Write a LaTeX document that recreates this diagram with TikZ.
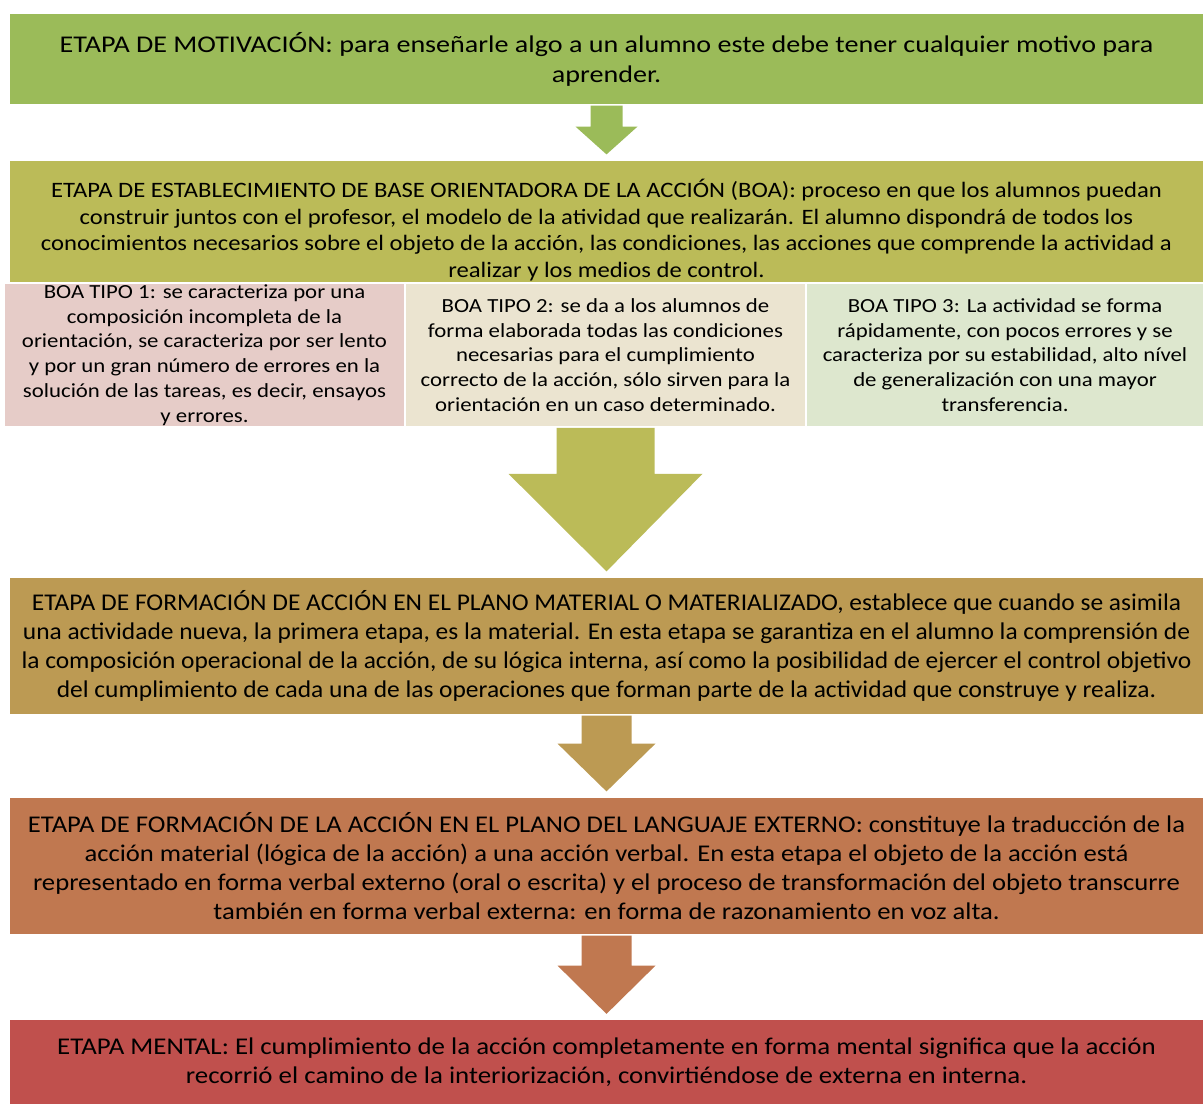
\documentclass[tikz,border=0pt]{standalone}
\usepackage{fontspec}
\setmainfont{Carlito}
\usetikzlibrary{calc}

\definecolor{motivgreen}{HTML}{9BBB59}
\definecolor{boaolive}{HTML}{BBBB58}
\definecolor{boapink}{HTML}{E6CCC8}
\definecolor{boabeige}{HTML}{EBE4D0}
\definecolor{boagreen}{HTML}{DDE7CE}
\definecolor{materialtan}{HTML}{BC9A53}
\definecolor{verbalbrown}{HTML}{C07850}
\definecolor{mentalred}{HTML}{C0504D}

% fat arrow: from, to, shaft half width, head half width, shaft length, colour
\newcommand{\stagearrow}[6]{%
  \fill[#6] ($(#1.south)+(-#3,0)$) -- ($(#1.south)+(#3,0)$) -- ($(#1.south)+(#3,#5)$)
    -- ($(#1.south)+(#4,#5)$) -- ($(#2.north)+(0,-5)$) -- ($(#1.south)+(-#4,#5)$)
    -- ($(#1.south)+(-#3,#5)$) -- cycle;}
% font size, baseline skip, horizontal stretch
\newcommand{\stagefont}[3]{\fontsize{#1}{#2}\selectfont\addfontfeatures{FakeStretch=#3}}

\begin{document}
\begin{tikzpicture}[x = 0.5pt, y = -0.5pt,
  stage/.style = {draw = white, line width = 0.6pt, inner sep = 0pt, align = center, minimum width = 597.5pt},
  boatype/.style = {draw = white, line width = 0.8pt, inner sep = 0pt, align = center, minimum height = 72pt,
    font = \stagefont{10}{12.4}{1.14}}]
\useasboundingbox (0, 0) rectangle (1204, 1103);

\node (motiv) [stage, fill = motivgreen, minimum height = 46pt, font = \stagefont{12}{15}{1.17}] at (606.5, 59)
  {ETAPA DE MOTIVACIÓN: para enseñarle algo a un alumno este debe tener cualquier motivo para\\ aprender.};

\node (boa) [stage, fill = boaolive, minimum height = 70pt, font = \stagefont{11}{13.35}{1.12}] at (606.5, 230)
  {ETAPA DE ESTABLECIMIENTO DE BASE ORIENTADORA DE LA ACCIÓN (BOA): proceso en que los alumnos puedan\\
   construir juntos con el profesor, el modelo de la atividad que realizarán. El alumno dispondrá de todos los\\
   conocimientos necesarios sobre el objeto de la acción, las condiciones, las acciones que comprende la actividad a\\
   realizar y los medios de control.};

\node (boaA) [boatype, fill = boapink, minimum width = 200.5pt] at (204.5, 355)
  {BOA TIPO 1: se caracteriza por una\\ composición incompleta de la\\ orientación, se caracteriza por ser lento\\
   y por un gran número de errores en la\\ solución de las tareas, es decir, ensayos\\ y errores.};
\node (boaB) [boatype, fill = boabeige, minimum width = 200.5pt] at (605.5, 355)
  {BOA TIPO 2: se da a los alumnos de\\ forma elaborada todas las condiciones\\ necesarias para el cumplimiento\\
   correcto de la acción, sólo sirven para la\\ orientación en un caso determinado.};
\node (boaC) [boatype, fill = boagreen, minimum width = 199pt] at (1005, 355)
  {BOA TIPO 3: La actividad se forma\\ rápidamente, con pocos errores y se\\ caracteriza por su estabilidad, alto nível\\
   de generalización con una mayor\\ transferencia.};

\node (material) [stage, fill = materialtan, minimum height = 69pt, font = \stagefont{12}{14.5}{1.06}] at (606.5, 646)
  {ETAPA DE FORMACIÓN DE ACCIÓN EN EL PLANO MATERIAL O MATERIALIZADO, establece que cuando se asimila\\
   una actividade nueva, la primera etapa, es la material. En esta etapa se garantiza en el alumno la comprensión de\\
   la composición operacional de la acción, de su lógica interna, así como la posibilidad de ejercer el control objetivo\\
   del cumplimiento de cada una de las operaciones que forman parte de la actividad que construye y realiza.};

\node (verbal) [stage, fill = verbalbrown, minimum height = 69pt, font = \stagefont{12}{14.5}{1.11}] at (606.5, 866)
  {ETAPA DE FORMACIÓN DE LA ACCIÓN EN EL PLANO DEL LANGUAJE EXTERNO: constituye la traducción de la\\
   acción material (lógica de la acción) a una acción verbal. En esta etapa el objeto de la acción está\\
   representado en forma verbal externo (oral o escrita) y el proceso de transformación del objeto transcurre\\
   también en forma verbal externa: en forma de razonamiento en voz alta.};

\node (mental) [stage, fill = mentalred, minimum height = 42.5pt, font = \stagefont{12}{14.5}{1.12}] at (606.5, 1062)
  {ETAPA MENTAL: El cumplimiento de la acción completamente en forma mental significa que la acción\\
   recorrió el camino de la interiorización, convirtiéndose de externa en interna.};

\stagearrow{motiv}{boa}{16}{31}{21}{motivgreen}
\stagearrow{boaB}{material}{49}{97}{46}{boaolive}
\stagearrow{material}{verbal}{25}{49}{28}{materialtan}
\stagearrow{verbal}{mental}{25}{49}{30}{verbalbrown}
\end{tikzpicture}
\end{document}
